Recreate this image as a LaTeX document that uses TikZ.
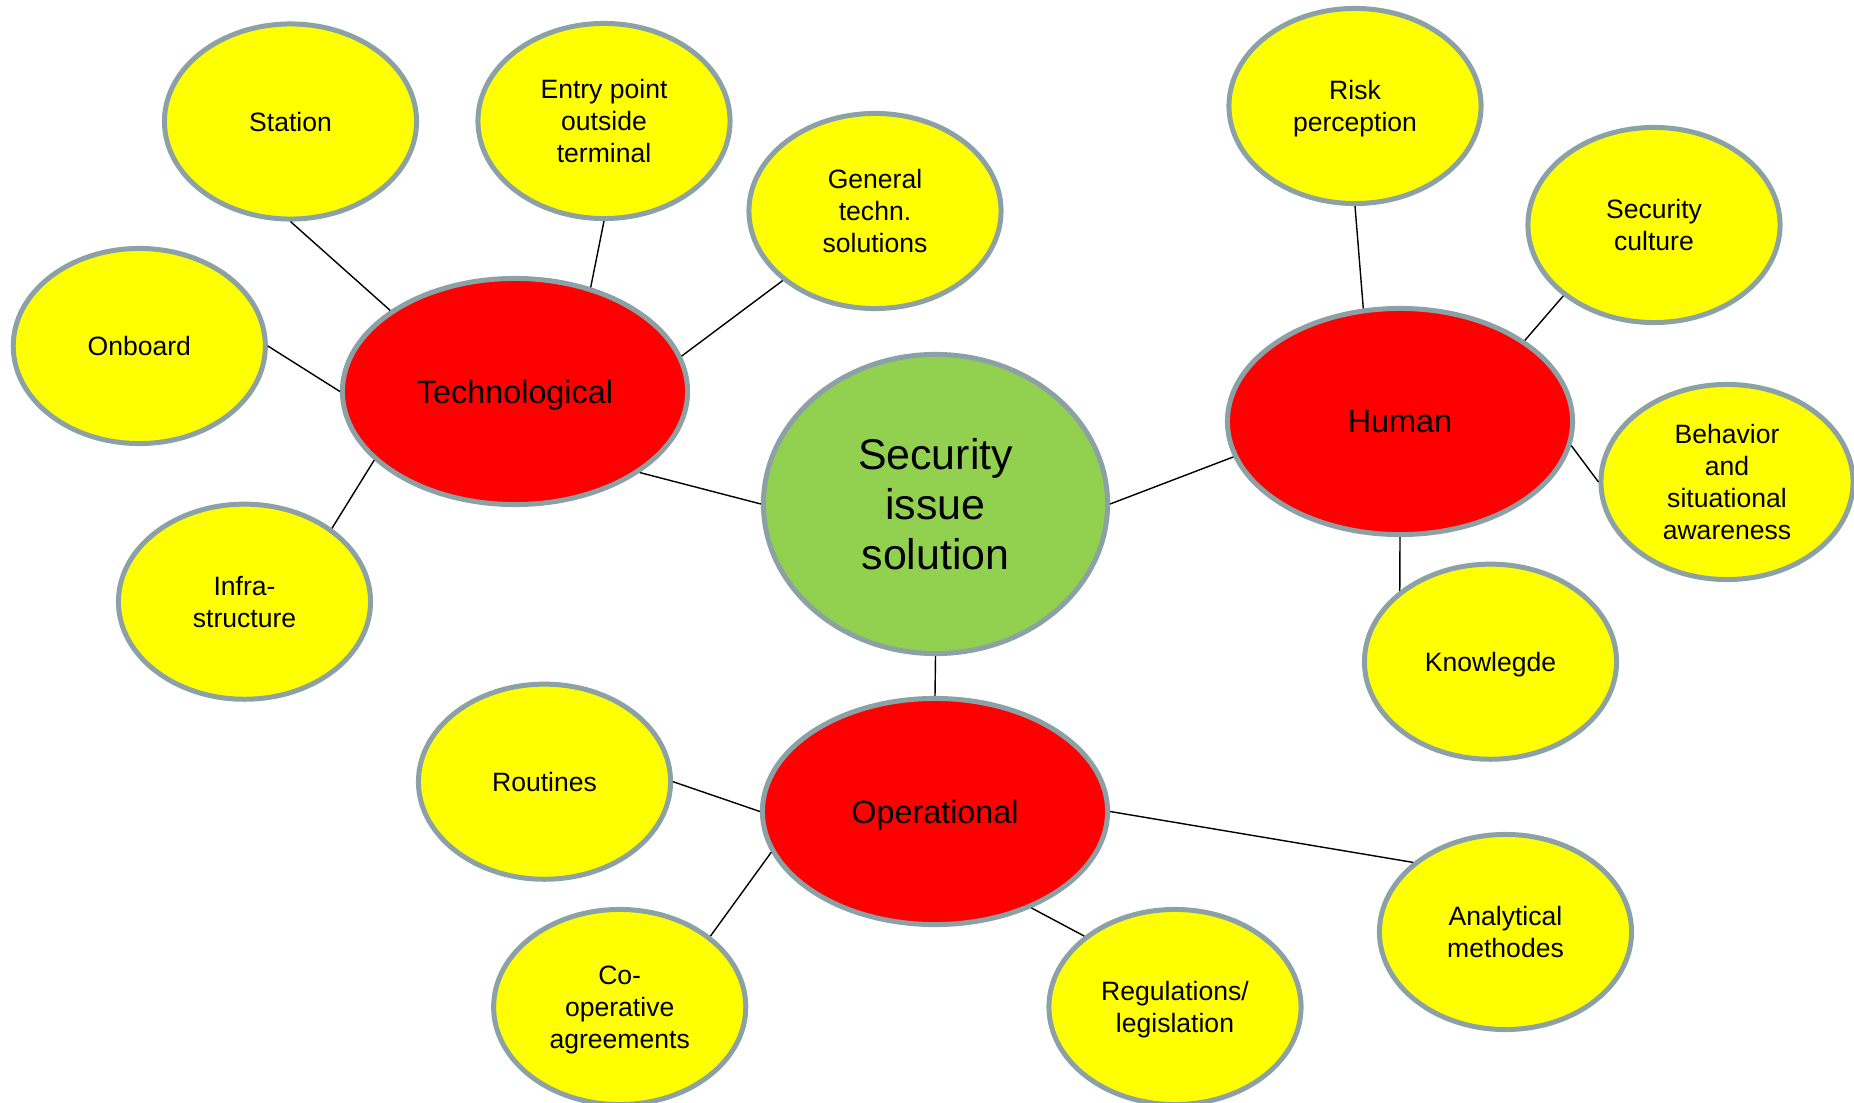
\documentclass[tikz,border=0pt]{standalone}
\usepackage{fontspec}
\setmainfont{Liberation Sans}
\usetikzlibrary{shapes.geometric}

\definecolor{rimgray}{RGB}{139,161,165}
\definecolor{hubgreen}{RGB}{146,208,80}
\definecolor{areared}{RGB}{255,0,0}
\definecolor{itemyellow}{RGB}{255,255,0}

\tikzset{
  bubble/.style={ellipse, draw=rimgray, line width=1.42pt, inner sep=0pt,
    align=center, text depth=0pt},
  hub/.style={bubble, fill=hubgreen, minimum width=3.44cm, minimum height=2.99cm,
    font=\fontsize{12.2}{14.3}\selectfont},
  area/.style={bubble, fill=areared, minimum width=3.45cm, minimum height=2.26cm,
    font=\fontsize{9.2}{11}\selectfont},
  item/.style={bubble, fill=itemyellow, minimum width=2.52cm, minimum height=1.95cm,
    font=\fontsize{7.55}{9.1}\selectfont},
  link/.style={line width=0.4pt}
}

\begin{document}
\begin{tikzpicture}[x=0.01cm,y=-0.01cm]
\useasboundingbox (0,0) rectangle (1854,1103);

% centre and the three areas
\node[hub] (solution) at (935.5,504) {Security\\issue\\solution};
\node[area] (tech) at (515,391.5) {Technological};
\node[area] (human) at (1400,421.5) {Human};
\node[area] (oper) at (935,811.5) {Operational};

% technological
\node[item] (station) at (290.5,121.5) {Station};
\node[item] (entry) at (604,121) {Entry point\\outside\\terminal};
\node[item] (general) at (875,211) {General\\techn.\\solutions};
\node[item] (onboard) at (139.3,346) {Onboard};
\node[item] (infra) at (244.5,601.7) {Infra-\\structure};

% human
\node[item] (risk) at (1355,106) {Risk\\perception};
\node[item] (culture) at (1654,225) {Security\\culture};
\node[item] (behavior) at (1727,482) {Behavior\\and\\situational\\awareness};
\node[item] (knowledge) at (1490.5,661.7) {Knowlegde};

% operational
\node[item] (routines) at (544.5,781.7) {Routines};
\node[item] (coop) at (619.7,1007) {Co-\\operative\\agreements};
\node[item] (regul) at (1175,1007) {Regulations/\\legislation};
\node[item] (analytic) at (1505.5,932) {Analytical\\methodes};

\draw[link] (tech.-33) -- (solution.180);
\draw[link] (solution.0) -- (human.192);
\draw[link] (solution.-90) -- (oper.90);

\draw[link] (station.-90) -- (tech.147);
\draw[link] (entry.-90) -- (tech.54);
\draw[link] (general.217) -- (tech.12);
\draw[link] (onboard.0) -- (tech.180);
\draw[link] (infra.40) -- (tech.206);

\draw[link] (risk.-90) -- (human.108);
\draw[link] (culture.218) -- (human.33);
\draw[link] (behavior.180) -- (human.-8);
\draw[link] (knowledge.142) -- (human.-90);

\draw[link] (routines.0) -- (oper.180);
\draw[link] (coop.38) -- (oper.194);
\draw[link] (regul.142) -- (oper.-45);
\draw[link] (analytic.143) -- (oper.0);
\end{tikzpicture}
\end{document}
